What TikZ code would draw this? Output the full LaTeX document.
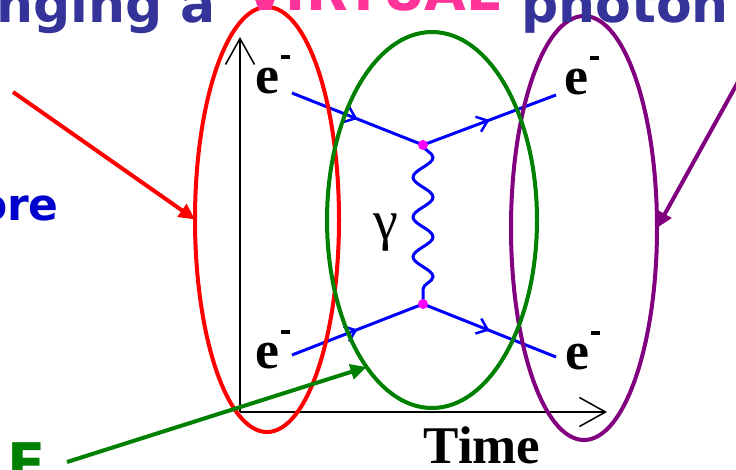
\documentclass[tikz,border=0pt]{standalone}
\usepackage{fontspec}
\setmainfont{Liberation Serif}
\newfontfamily\titlefont{DejaVu Sans}
\usetikzlibrary{arrows.meta,shapes.geometric,decorations.markings,decorations.pathmorphing}
\definecolor{titleblue}{RGB}{51,51,153}
\definecolor{titlepink}{RGB}{255,51,153}
\definecolor{oreblue}{RGB}{0,0,204}
\definecolor{ggreen}{RGB}{0,128,0}
\definecolor{ppurple}{RGB}{128,0,128}
\definecolor{vmag}{RGB}{255,0,255}
\newcommand{\eminus}{e\hspace{2pt}\rule[34pt]{9pt}{4pt}}
\begin{document}
\begin{tikzpicture}[x=1pt,y=-1pt,
  ring/.style={ellipse,draw,line width=4pt,inner sep=0pt,outer sep=0pt},
  pointer/.style={line width=4pt,-{Triangle[length=16pt,width=15pt]}},
  fermion/.style={draw=blue,line width=3pt,postaction={decorate},
    decoration={markings,mark=at position 0.5 with {\arrow[line width=2.5pt]{Straight Barb[length=10pt,width=16pt]}}}},
  photon/.style={draw=blue,line width=3pt,decorate,decoration={snake,amplitude=10pt,segment length=39.75pt}},
  dot/.style={circle,fill=vmag,inner sep=0pt,minimum size=10pt},
  axis/.style={line width=1.5pt,-{Straight Barb[length=26pt,width=29pt,line width=1.5pt]}},
  elabel/.style={inner sep=0pt,anchor=base west,font=\fontsize{54}{54}\selectfont\bfseries},
  titletext/.style={inner sep=0pt,anchor=base west,font=\fontsize{52}{52}\selectfont\titlefont\bfseries},
  timetext/.style={inner sep=0pt,anchor=base west,font=\fontsize{53}{53}\selectfont\bfseries},
]
\useasboundingbox (0,0) rectangle (736,469);
\clip (0,0) rectangle (736,469);

% axes
\coordinate (origin) at (240,412);
\coordinate (ytop) at (240,37);
\coordinate (xend) at (607,412);
\draw[axis] (origin) -- (ytop);
\draw[axis] (origin) -- (xend);

% fermion lines
\coordinate (vtop) at (423,145);
\coordinate (vbot) at (423,304);
\coordinate (inTop) at (292,93);
\coordinate (outTop) at (556,95);
\coordinate (inBot) at (292,355);
\coordinate (outBot) at (556,357);
\draw[fermion] (inTop) -- (vtop);
\draw[fermion] (vtop) -- (outTop);
\draw[fermion] (inBot) -- (vbot);
\draw[fermion] (vbot) -- (outBot);
\draw[photon] (vtop) -- (vbot);
\node[dot] (dtop) at (vtop) {};
\node[dot] (dbot) at (vbot) {};

% rings
\node[ring,draw=red,minimum width=144pt,minimum height=425pt] (redring) at (267,219.5) {};
\node[ring,draw=ppurple,minimum width=146pt,minimum height=424pt] (purplering) at (584,228) {};
\node[ring,draw=ggreen,minimum width=210pt,minimum height=376pt] (greenring) at (432,220) {};

% pointers
\coordinate (redstart) at (13,92);
\coordinate (purplestart) at (738,82);
\coordinate (greenstart) at (67,462);
\draw[pointer,red] (redstart) -- (redring.west);
\draw[pointer,ppurple] (purplestart) -- (purplering.east);
\draw[pointer,ggreen] (greenstart) -- (greenring.246.6);

% labels
\node[elabel] (eTL) at (255,93) {\eminus};
\node[elabel] (eTR) at (564,94) {\eminus};
\node[elabel] (eBL) at (255,368) {\eminus};
\node[elabel] (eBR) at (565,369) {\eminus};
\node[inner sep=0pt,anchor=base,font=\fontsize{56}{56}\selectfont] (gam) at (386,239) {γ};
\node[timetext] (time) at (423.5,463) {Time};

% cut-off slide texts
\node[titletext,text=titleblue] (t1) at (-4,22) {nging a};
\node[titletext,text=titlepink,font=\fontsize{54}{54}\selectfont\titlefont\bfseries] (t2) at (244,10) {VIRTUAL};
\node[titletext,text=titleblue] (t3) at (521,22) {photon};
\node[inner sep=0pt,anchor=base east,text=oreblue,font=\fontsize{44}{44}\selectfont\titlefont\bfseries] (ore) at (59,220) {ore};
\node[inner sep=0pt,anchor=base west,text=ggreen,font=\fontsize{56}{56}\selectfont\titlefont\bfseries] (bigE) at (7,483) {E};
\end{tikzpicture}
\end{document}
